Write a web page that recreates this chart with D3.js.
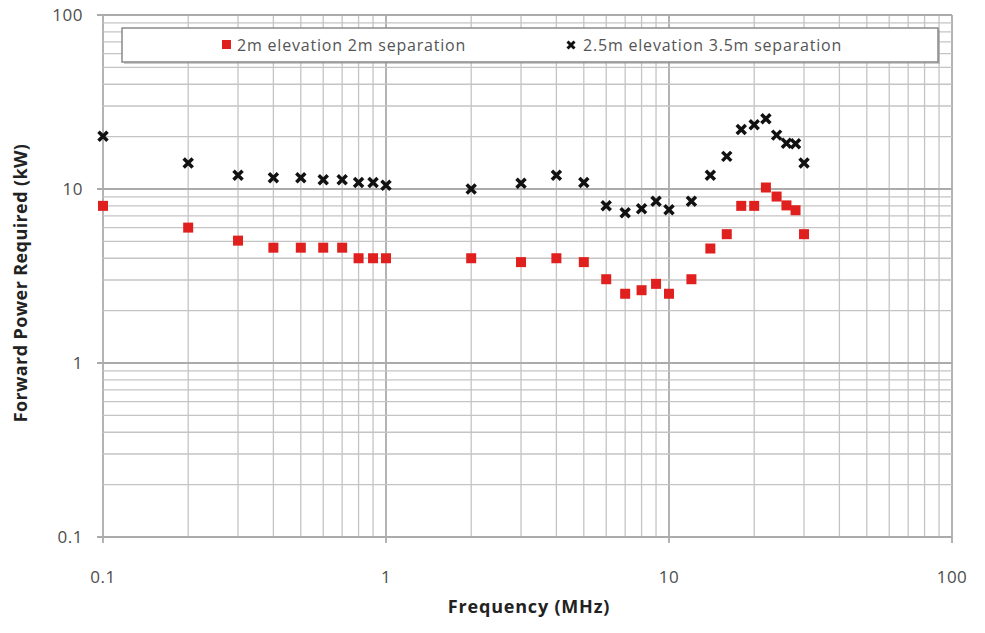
<!DOCTYPE html>
<meta charset="utf-8">
<script src="https://d3js.org/d3.v7.min.js"></script>
<style>
  body { margin: 0; background: #fff; }
  text { font-family: "Open Sans", sans-serif; }
</style>
<div id="chart"></div>
<script>

// frequencies (MHz) shared by both series
var freqs = [0.1, 0.2, 0.3, 0.4, 0.5, 0.6, 0.7, 0.8, 0.9, 1, 2, 3, 4, 5, 6, 7, 8, 9, 10, 12, 14, 16, 18, 20, 22, 24, 26, 28, 30];

// 2m elevation 2m separation (kW)
var powerLow = [8.0, 6.0, 5.05, 4.6, 4.6, 4.6, 4.6, 4.0, 4.0, 4.0, 4.0, 3.8, 4.0, 3.8, 3.03, 2.5, 2.62, 2.85, 2.5, 3.03, 4.55, 5.5, 8.0, 8.0, 10.2, 9.05, 8.05, 7.55, 5.5];

// 2.5m elevation 3.5m separation (kW)
var powerHigh = [20.1, 14.1, 12.0, 11.6, 11.6, 11.3, 11.3, 10.9, 10.9, 10.5, 10.0, 10.8, 12.0, 10.9, 8.0, 7.3, 7.7, 8.5, 7.6, 8.5, 12.0, 15.4, 22.0, 23.4, 25.3, 20.4, 18.3, 18.2, 14.1];

var seriesNames = ["2m elevation 2m separation", "2.5m elevation 3.5m separation"];
var xTicks = [0.1, 1, 10, 100];
var yTicks = [0.1, 1, 10, 100];

var W = 985, H = 633;
var plotL = 103, plotR = 952, plotT = 15, plotB = 537;

var svg = d3.select("#chart")
  .append("svg")
    .attr("width", W)
    .attr("height", H);

var x = d3.scaleLog().domain([0.1, 100]).range([plotL, plotR]);
var y = d3.scaleLog().domain([0.1, 100]).range([plotB, plotT]);

// minor + major grid values for each decade
var gridVals = [];
[0.1, 1, 10].forEach(function(d) {
  for (var k = 1; k <= 9; k++) gridVals.push(+(d * k).toPrecision(3));
});
gridVals.push(100);
var isMajor = function(v) { return xTicks.indexOf(v) >= 0; };

var grid = svg.append("g");
grid.selectAll(".vg")
  .data(gridVals)
  .enter().append("line")
    .attr("x1", function(d) { return x(d); })
    .attr("x2", function(d) { return x(d); })
    .attr("y1", plotT)
    .attr("y2", function(d) { return isMajor(d) ? plotB + 6 : plotB; })
    .attr("stroke", function(d) { return isMajor(d) ? "#ababab" : "#c4c4c4"; })
    .attr("stroke-width", function(d) { return isMajor(d) ? 1.8 : 1.3; });

grid.selectAll(".hg")
  .data(gridVals)
  .enter().append("line")
    .attr("y1", function(d) { return y(d); })
    .attr("y2", function(d) { return y(d); })
    .attr("x1", function(d) { return isMajor(d) ? plotL - 6 : plotL; })
    .attr("x2", plotR)
    .attr("stroke", function(d) { return isMajor(d) ? "#ababab" : "#c4c4c4"; })
    .attr("stroke-width", function(d) { return isMajor(d) ? 2 : 1.3; });

// tick labels
var fmt = function(d) { return d < 1 ? String(d) : d3.format("d")(d); };

svg.append("g").selectAll("text")
  .data(xTicks)
  .enter().append("text")
    .attr("x", function(d) { return x(d); })
    .attr("y", 583)
    .attr("text-anchor", "middle")
    .attr("font-size", 17)
    .attr("letter-spacing", 0.5)
    .attr("fill", "#4d4d4d")
    .text(fmt);

svg.append("g").selectAll("text")
  .data(yTicks)
  .enter().append("text")
    .attr("x", 83)
    .attr("y", function(d) { return y(d) + 6; })
    .attr("text-anchor", "end")
    .attr("font-size", 17)
    .attr("letter-spacing", 0.5)
    .attr("fill", "#4d4d4d")
    .text(fmt);

// axis titles
svg.append("text")
  .attr("x", 529)
  .attr("y", 613)
  .attr("text-anchor", "middle")
  .attr("font-size", 18)
  .attr("letter-spacing", 0.8)
  .attr("font-weight", "bold")
  .attr("fill", "#222")
  .text("Frequency (MHz)");

svg.append("text")
  .attr("transform", "translate(27,283) rotate(-90)")
  .attr("text-anchor", "middle")
  .attr("font-size", 18)
  .attr("letter-spacing", 0.4)
  .attr("font-weight", "bold")
  .attr("fill", "#222")
  .text("Forward Power Required (kW)");

// markers
var red = "#e0201f";
var xPath = "M-4.5,-4.5L4.5,4.5M-4.5,4.5L4.5,-4.5";

svg.append("g").selectAll("rect")
  .data(freqs)
  .enter().append("rect")
    .attr("x", function(d) { return x(d) - 5; })
    .attr("y", function(d, i) { return y(powerLow[i]) - 5; })
    .attr("width", 10)
    .attr("height", 10)
    .attr("fill", red);

svg.append("g").selectAll("path")
  .data(freqs)
  .enter().append("path")
    .attr("transform", function(d, i) { return "translate(" + x(d) + "," + y(powerHigh[i]) + ")"; })
    .attr("d", xPath)
    .attr("stroke", "#111")
    .attr("stroke-width", 3.5);

// legend
var lg = svg.append("g");
lg.append("rect")
  .attr("x", 124).attr("y", 30)
  .attr("width", 816).attr("height", 34)
  .attr("fill", "#999").attr("opacity", 0.5);
lg.append("rect")
  .attr("x", 122).attr("y", 28)
  .attr("width", 816).attr("height", 34)
  .attr("fill", "#fff")
  .attr("stroke", "#8a8a8a")
  .attr("stroke-width", 1.5);

lg.append("rect")
  .attr("x", 222).attr("y", 40)
  .attr("width", 9).attr("height", 9)
  .attr("fill", red);
lg.append("text")
  .attr("x", 237).attr("y", 50.5)
  .attr("font-size", 16)
  .attr("letter-spacing", 0.8)
  .attr("fill", "#555")
  .text(seriesNames[0]);

lg.append("path")
  .attr("transform", "translate(571,45)")
  .attr("d", "M-3.5,-3.5L3.5,3.5M-3.5,3.5L3.5,-3.5")
  .attr("stroke", "#111")
  .attr("stroke-width", 3);
lg.append("text")
  .attr("x", 583).attr("y", 50.5)
  .attr("font-size", 16)
  .attr("letter-spacing", 0.8)
  .attr("fill", "#555")
  .text(seriesNames[1]);

</script>
